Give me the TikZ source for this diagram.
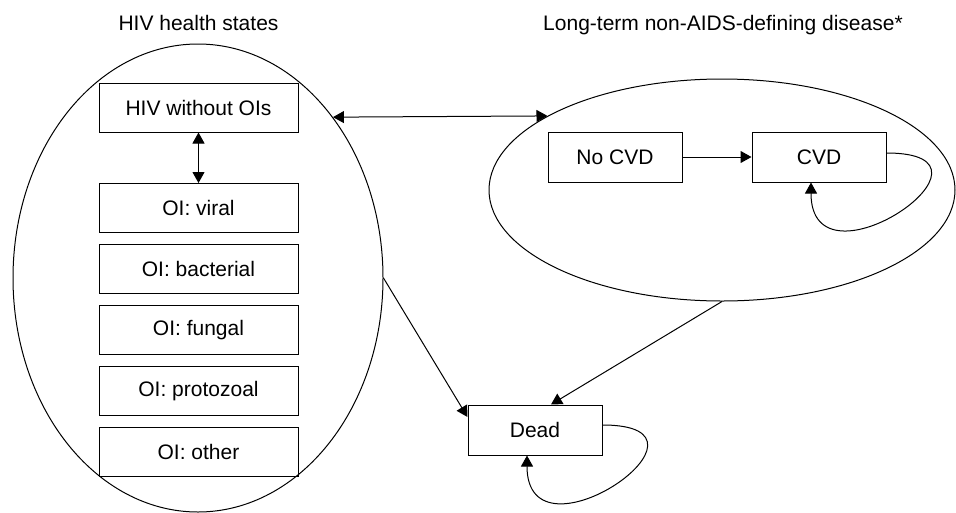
\documentclass[tikz,border=0pt]{standalone}
\usepackage{fontspec}
\setmainfont{Liberation Sans}
\usetikzlibrary{shapes.geometric,arrows.meta}
\definecolor{ink}{HTML}{000000}
\newcommand{\selfloop}{.. controls +(135,0) and +(0,115) ..}
\tikzset{
  statebox/.style={draw=ink, minimum width=199pt, minimum height=49pt, inner sep=0pt},
  smallbox/.style={statebox, minimum width=134pt, minimum height=50pt},
  groupring/.style={draw=ink, ellipse, inner sep=0pt},
}

\begin{document}
\begin{tikzpicture}[x=1pt, y=-1pt, line width=1pt, >={Triangle[length=11pt,width=12pt]}, font=\fontsize{21}{25}\selectfont]
      \useasboundingbox (0,0) rectangle (956,512);

      % headings
      \node[anchor=base] (hivlabel) at (198.5,30) {HIV health states};
      \node[anchor=base] (diseaselabel) at (723,30) {Long-term non-AIDS-defining disease*};

      % groups
      \node[groupring, minimum width=370pt, minimum height=468pt] (hivgroup) at (198,278) {};
      \node[groupring, minimum width=466pt, minimum height=222pt] (cvdgroup) at (722,190) {};

      % HIV states
      \node[statebox] (nooi) at (198.5,107.5) {HIV without OIs};
      \node[statebox] (viral) at (198.5,208) {OI: viral};
      \node[statebox] (bacterial) at (198.5,269) {OI: bacterial};
      \node[statebox] (fungal) at (198.5,330) {OI: fungal};
      \node[statebox] (protozoal) at (198.5,391) {OI: protozoal};
      \node[statebox] (other) at (198.5,451.5) {OI: other};

      % disease states
      \node[smallbox] (nocvd) at (615,157) {No CVD};
      \node[smallbox] (cvd) at (819,157) {CVD};

      % dead
      \node[smallbox] (dead) at (535,430) {Dead};

      % moves
      \draw[<->] (nooi) -- (viral);
      \draw[<->] (hivgroup.50.2) -- (cvdgroup.157.4);
      \draw[->] (nocvd) -- (cvd);
      \draw[->] (hivgroup.east) -- ([yshift=13pt]dead.west);
      \draw[->] (cvdgroup.south) -- ([xshift=16pt]dead.north);

      % staying
      \draw[->] ([yshift=4pt]cvd.east) \selfloop ([xshift=-8pt]cvd.south);
      \draw[->] ([yshift=5pt]dead.east) \selfloop ([xshift=-8pt]dead.south);
    \end{tikzpicture}
\end{document}
